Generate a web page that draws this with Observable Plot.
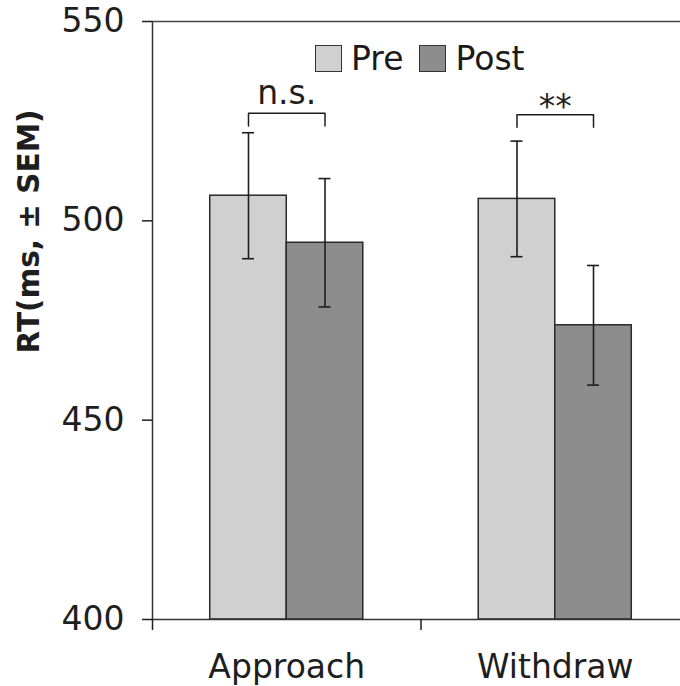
<!DOCTYPE html>
<html><head><meta charset="utf-8">
<script src="https://cdn.jsdelivr.net/npm/d3@7"></script>
<script src="https://cdn.jsdelivr.net/npm/@observablehq/plot@0.6"></script>
<style>
html,body{margin:0;padding:0;background:#fff;overflow:hidden;}
#wrap{position:relative;width:680px;height:686px;font-family:"DejaVu Sans",Verdana,sans-serif;}
#legend{position:absolute;left:315px;top:45px;height:27px;display:flex;align-items:center;font-size:33px;color:#1a1a1a;}
#legend .item{display:flex;align-items:center;margin-right:16px;}
#legend .sw{display:inline-block;box-sizing:border-box;width:27px;height:27px;border:1.5px solid #333;margin-right:9px;}
</style></head><body><div id="wrap"><div id="legend"></div></div>
<script>
// ---- data ----
const categories = ["Approach", "Withdraw"];
const conditions = ["Pre", "Post"];
const preMeans  = [506.3, 505.5];
const postMeans = [494.5, 473.8];
const preSEM    = [15.8, 14.5];
const postSEM   = [16.1, 15.0];
const yTicks = [400, 450, 500, 550];
const sigLabels  = ["n.s.", "**"];
const bracketTop = [527.0, 526.6];
const bracketLeg = [523.8, 523.5];
const sigLabelY  = [529.3, 525.8];
const yLabel = "RT(ms, \u00b1 SEM)";

// ---- styles / layout ----
const colors = ["#d0d0d0", "#8d8d8d"];
const ink = "#1e1e1e";
const groupInset = 0.215;              // fraction of category band left empty on each side
const barW = (1 - 2 * groupInset) / 2;

const means = [preMeans, postMeans];
const sems = [preSEM, postSEM];
const rows = [];
categories.forEach((cat, i) => {
  conditions.forEach((cond, j) => {
    const x1 = i + groupInset + j * barW;
    rows.push({category: cat, condition: cond, x1, x2: x1 + barW, center: x1 + barW / 2,
               mean: means[j][i], sem: sems[j][i]});
  });
});
const brackets = [];
const annots = categories.map((cat, i) => {
  const pre = rows.find(r => r.category === cat && r.condition === "Pre");
  const post = rows.find(r => r.category === cat && r.condition === "Post");
  brackets.push({g: cat, x: pre.center, y: bracketLeg[i]},
                {g: cat, x: pre.center, y: bracketTop[i]},
                {g: cat, x: post.center, y: bracketTop[i]},
                {g: cat, x: post.center, y: bracketLeg[i]});
  return {category: cat, x: (pre.center + post.center) / 2, y: sigLabelY[i], label: sigLabels[i]};
});

const chart = Plot.plot({
  width: 680, height: 686,
  marginLeft: 152, marginRight: 0, marginTop: 21, marginBottom: 67,
  style: {fontFamily: "DejaVu Sans, Verdana, sans-serif", fontSize: "33px", color: ink, background: "#fff"},
  x: {type: "linear", domain: [0, categories.length], range: [152, 689], label: null},
  y: {domain: [yTicks[0], yTicks[yTicks.length - 1]], label: null},
  color: {domain: conditions, range: colors},
  marks: [
    Plot.rectY(rows, {x1: "x1", x2: "x2", y1: yTicks[0], y2: "mean", fill: "condition", stroke: "#2a2a2a", strokeWidth: 1.5}),
    Plot.ruleX(rows, {x: "center", y1: d => d.mean - d.sem, y2: d => d.mean + d.sem, stroke: ink, strokeWidth: 1.6}),
    Plot.ruleY(rows, {x1: "center", x2: "center", y: d => d.mean + d.sem, insetLeft: -6, insetRight: -6, stroke: ink, strokeWidth: 1.6}),
    Plot.ruleY(rows, {x1: "center", x2: "center", y: d => d.mean - d.sem, insetLeft: -6, insetRight: -6, stroke: ink, strokeWidth: 1.6}),
    Plot.line(brackets, {x: "x", y: "y", z: "g", stroke: ink, strokeWidth: 1.5}),
    Plot.text(annots, {x: "x", y: "y", text: "label", fontSize: 33, lineAnchor: "bottom", fill: ink}),
    Plot.ruleY([yTicks[0]], {stroke: "#333", strokeWidth: 1.5}),
    Plot.ruleY([yTicks[yTicks.length - 1]], {stroke: "#444", strokeWidth: 1.5}),
    Plot.ruleX([0], {stroke: "#333", strokeWidth: 1.5}),
    Plot.axisY({ticks: yTicks, tickSize: 10, tickPadding: 18, fontSize: 33, label: null, strokeWidth: 1.5}),
    Plot.axisX({ticks: d3.range(categories.length + 1), tickSize: 11, tickFormat: () => "", label: null, strokeWidth: 1.5}),
    Plot.axisX({ticks: categories.map((c, i) => i + 0.5), tickSize: 0, tickPadding: 35, fontSize: 33,
                tickFormat: d => categories[Math.floor(d)], label: null}),
    Plot.text([yLabel], {frameAnchor: "left", textAnchor: "middle", lineAnchor: "middle", rotate: -90,
                         dx: -123, dy: -89, fontSize: 29.5, fontWeight: "bold", fill: ink})
  ]
});
const wrap = document.getElementById("wrap");
wrap.insertBefore(chart, wrap.firstChild);

const legend = document.getElementById("legend");
conditions.forEach((c, i) => {
  const item = document.createElement("span");
  item.className = "item";
  const sw = document.createElement("span");
  sw.className = "sw";
  sw.style.background = colors[i];
  item.appendChild(sw);
  item.appendChild(document.createTextNode(c));
  legend.appendChild(item);
});
</script>
</body></html>
